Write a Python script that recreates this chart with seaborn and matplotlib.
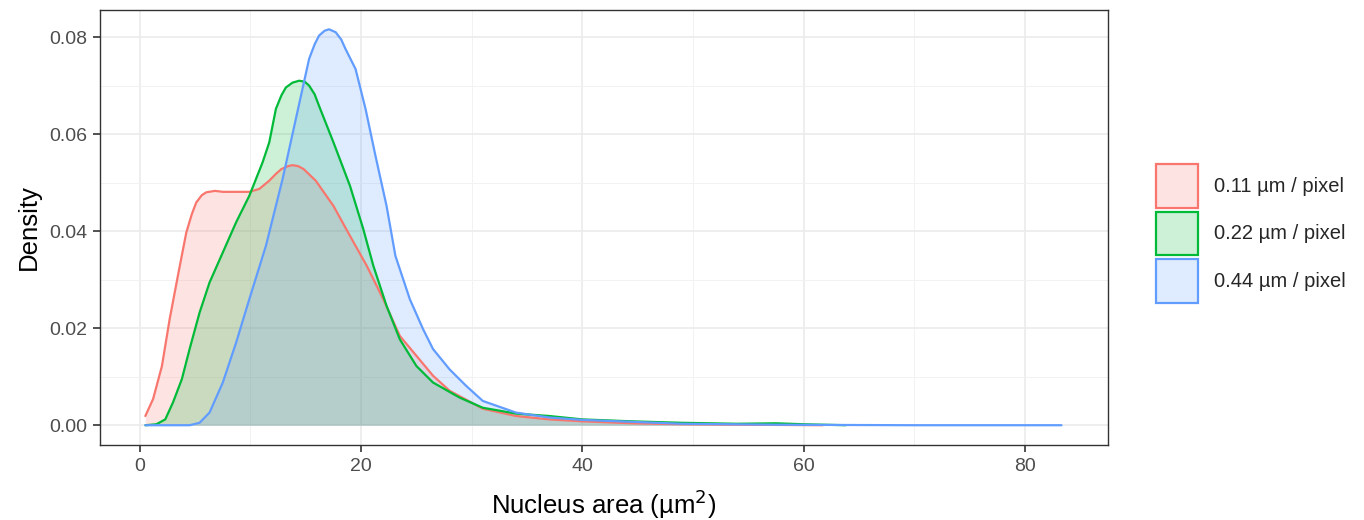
import pandas as pd
import numpy as np
import seaborn as sns
import matplotlib
matplotlib.use("Agg")
import matplotlib.pyplot as plt
from matplotlib.patches import Patch
from matplotlib.ticker import MultipleLocator, FormatStrFormatter

# density curves (x = nucleus area, y = density)
red_x = [0.5, 1.2, 2.0, 2.7, 3.5, 4.2, 4.7, 5.1, 5.6, 6.0, 6.8, 7.5, 9.9, 10.8, 11.7, 12.3, 12.8, 13.4,
         13.8, 14.3, 14.8, 15.9, 17.5, 19.0, 20.5, 22.0, 23.5, 25.0, 26.5, 28.0, 31.0, 34.0, 37.0,
         40.0, 44.5, 49.0, 55.0, 61.7]
red_y = [0.0019, 0.0054, 0.0122, 0.0219, 0.0315, 0.0397, 0.0435, 0.0459, 0.0474, 0.0480, 0.0483, 0.0481,
         0.0481, 0.0487, 0.0504, 0.0518, 0.0528, 0.0534, 0.0536, 0.0534, 0.0528, 0.0504, 0.0452,
         0.0390, 0.0329, 0.0260, 0.0184, 0.0143, 0.0102, 0.0071, 0.0034, 0.0019, 0.0012, 0.0008,
         0.0004, 0.0002, 0.0001, 0.0]

green_x = [0.5, 1.5, 2.3, 3.0, 3.8, 4.5, 5.4, 6.3, 7.5, 8.7, 9.9, 11.1, 11.7, 12.3, 12.8, 13.2, 13.8,
           14.4, 14.9, 15.3, 15.8, 16.2, 17.5, 19.0, 20.2, 21.1, 22.3, 23.5, 25.0, 26.5, 28.9, 31.0,
           34.0, 37.0, 40.0, 44.5, 49.0, 54.0, 57.5, 60.0, 63.8]
green_y = [0.0, 0.0002, 0.0012, 0.0047, 0.0095, 0.0157, 0.0232, 0.0294, 0.0356, 0.0418, 0.0473, 0.0542,
           0.0583, 0.0652, 0.0680, 0.0696, 0.0706, 0.0710, 0.0708, 0.0700, 0.0682, 0.0658, 0.0583,
           0.0493, 0.0404, 0.0329, 0.0246, 0.0177, 0.0122, 0.0088, 0.0057, 0.0036, 0.0024, 0.0019,
           0.0012, 0.0008, 0.0005, 0.0003, 0.0004, 0.0002, 0.0]

blue_x = [0.5, 4.5, 5.4, 6.3, 7.5, 8.7, 9.9, 11.4, 12.9, 14.1, 15.3, 15.8, 16.2, 16.7, 17.1, 17.7,
          18.2, 18.6, 19.5, 20.4, 21.3, 22.3, 23.1, 24.4, 25.6, 26.5, 28.0, 29.5, 31.0, 34.0, 37.0,
          40.0, 44.5, 49.0, 57.8, 70.0, 83.3]
blue_y = [0.0, 0.0, 0.0005, 0.0026, 0.0088, 0.0170, 0.0260, 0.0370, 0.0507, 0.0631, 0.0755, 0.0785,
          0.0803, 0.0813, 0.0816, 0.0810, 0.0795, 0.0775, 0.0734, 0.0652, 0.0555, 0.0452, 0.0349,
          0.0260, 0.0198, 0.0157, 0.0115, 0.0081, 0.0050, 0.0026, 0.0016, 0.0011, 0.0007, 0.0003,
          0.0001, 0.0, 0.0]

labels = ["0.11 µm / pixel", "0.22 µm / pixel", "0.44 µm / pixel"]
colors = ["#F8766D", "#00BA38", "#619CFF"]

df = pd.concat([
    pd.DataFrame({"area": red_x, "density": red_y, "res": labels[0]}),
    pd.DataFrame({"area": green_x, "density": green_y, "res": labels[1]}),
    pd.DataFrame({"area": blue_x, "density": blue_y, "res": labels[2]}),
])

sns.set_theme(style="white")
plt.rcParams["font.family"] = ["Liberation Sans", "DejaVu Sans"]

fig = plt.figure(figsize=(13.64, 5.2), dpi=100)
ax = fig.add_axes([0.0733, 0.144, 0.739, 0.837])

# fills first, then outlines
for lab, col in zip(labels, colors):
    sub = df[df["res"] == lab]
    ax.fill_between(sub["area"], 0, sub["density"], color=col, alpha=0.2, lw=0, zorder=2)
sns.lineplot(data=df, x="area", y="density", hue="res", palette=colors, estimator=None,
             sort=False, lw=1.6, ax=ax, legend=False, zorder=3)

ax.set_xlim(-3.6, 87.5)
ax.set_ylim(-0.0041, 0.0856)
ax.xaxis.set_major_locator(MultipleLocator(20))
ax.xaxis.set_minor_locator(MultipleLocator(10))
ax.yaxis.set_major_locator(MultipleLocator(0.02))
ax.yaxis.set_minor_locator(MultipleLocator(0.01))
ax.yaxis.set_major_formatter(FormatStrFormatter("%.2f"))
ax.grid(which="major", color="#EBEBEB", lw=1.2, zorder=0)
ax.grid(which="minor", color="#F2F2F2", lw=0.7, zorder=0)
ax.set_axisbelow(True)
for s in ax.spines.values():
    s.set_color("#333333")
    s.set_linewidth(1.0)
ax.tick_params(which="major", length=5, width=1.2, color="#333333", labelsize=14,
               labelcolor="#4D4D4D", bottom=True, left=True, pad=4)
ax.tick_params(which="minor", length=0)

ax.set_xlabel("Nucleus area (µm$^2$)", fontsize=18.5, color="black", labelpad=9)
ax.set_ylabel("Density", fontsize=18.5, color="black", labelpad=6)

handles = [Patch(facecolor=matplotlib.colors.to_rgba(c, 0.2), edgecolor=c, lw=1.6) for c in colors]
fig.legend(handles, labels, loc="center left", bbox_to_anchor=(0.834, 0.551), frameon=False,
           fontsize=14.5, handlelength=2.09, handleheight=2.97, handletextpad=0.8,
           labelspacing=0.17)

fig.savefig("out.png", dpi=100)
